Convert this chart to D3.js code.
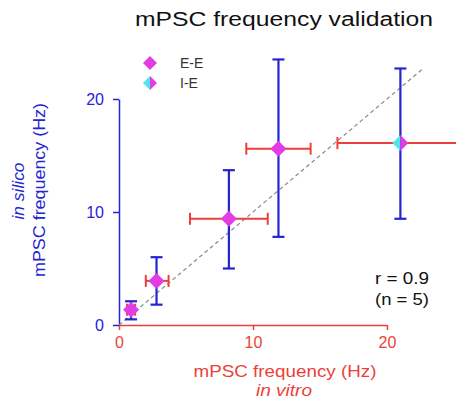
<!DOCTYPE html>
<html>
  <head>
    <meta charset="utf-8">
    <script src="https://cdn.jsdelivr.net/npm/d3@7"></script>
    <style>
      body { margin: 0; background: #fff; font-family: "Liberation Sans", Arial, sans-serif; }
    </style>
  </head>
  <body>
    <div id="my_dataviz"></div>
  <script>
    // in vitro (x) and in silico (y) mPSC frequency, Hz
    let groups = ["E-E", "E-E", "E-E", "E-E", "I-E"];
    let vitroMean = [0.9, 2.8, 8.2, 11.9, 21.0];
    let vitroLo   = [0.6, 2.0, 5.3, 9.5, 16.3];
    let vitroHi   = [1.2, 3.7, 11.1, 14.3, 25.7];
    let silicoMean = [1.35, 3.9, 9.4, 15.6, 16.1];
    let silicoLo   = [0.5, 1.8, 5.0, 7.8, 9.4];
    let silicoHi   = [2.1, 6.0, 13.7, 23.5, 22.7];
    let xTicks = [0, 10, 20];
    let yTicks = [0, 10, 20];
    let identityEnd = 22.6;

    let blue = "#2424d4", red = "#ec3f3a", magenta = "#e23ce6", cyan = "#4ee6e6";

    let width = 456, height = 400;

    let svg = d3.select("#my_dataviz")
                .append("svg")
                  .attr("width", width)
                  .attr("height", height);

    let x = d3.scaleLinear().domain([0, 20]).range([119, 387]);
    let y = d3.scaleLinear().domain([0, 20]).range([325, 99]);

    // axes
    let xAxis = svg.append("g")
       .attr("transform", "translate(0," + y(0) + ")")
       .call(d3.axisBottom(x).tickValues(xTicks).tickSize(5).tickSizeOuter(0).tickPadding(7));
    xAxis.selectAll("path, line").attr("stroke", red).attr("stroke-width", 1.5);
    xAxis.selectAll("text").attr("fill", red).style("font-size", "16px").style("font-family", "Liberation Sans, Arial, sans-serif");

    let yAxis = svg.append("g")
       .attr("transform", "translate(" + x(0) + ",0)")
       .call(d3.axisLeft(y).tickValues(yTicks).tickSize(6).tickSizeOuter(0).tickPadding(9));
    yAxis.selectAll("path, line").attr("stroke", blue).attr("stroke-width", 1.5);
    yAxis.selectAll("text").attr("fill", blue).style("font-size", "16px").style("font-family", "Liberation Sans, Arial, sans-serif");

    // identity line
    svg.append("line")
       .attr("x1", x(0)).attr("y1", y(0))
       .attr("x2", x(identityEnd)).attr("y2", y(identityEnd))
       .attr("stroke", "#8a8a8a")
       .attr("stroke-width", 1.2)
       .attr("stroke-dasharray", "4,3");

    let data = groups.map(function(g, i) {
      return { g: g, xm: vitroMean[i], xl: vitroLo[i], xh: vitroHi[i],
               ym: silicoMean[i], yl: silicoLo[i], yh: silicoHi[i] };
    });

    let bars = svg.append("g");
    // horizontal (in vitro) error bars
    data.forEach(function(d) {
      bars.append("line")
        .attr("x1", x(d.xl)).attr("x2", x(d.xh))
        .attr("y1", y(d.ym)).attr("y2", y(d.ym))
        .attr("stroke", red).attr("stroke-width", 2);
      [d.xl, d.xh].forEach(function(v) {
        bars.append("line")
          .attr("x1", x(v)).attr("x2", x(v))
          .attr("y1", y(d.ym) - 6).attr("y2", y(d.ym) + 6)
          .attr("stroke", red).attr("stroke-width", 2);
      });
    });
    // vertical (in silico) error bars
    data.forEach(function(d) {
      bars.append("line")
        .attr("x1", x(d.xm)).attr("x2", x(d.xm))
        .attr("y1", y(d.yl)).attr("y2", y(d.yh))
        .attr("stroke", blue).attr("stroke-width", 2.2);
      [d.yl, d.yh].forEach(function(v) {
        bars.append("line")
          .attr("x1", x(d.xm) - 6).attr("x2", x(d.xm) + 6)
          .attr("y1", y(v)).attr("y2", y(v))
          .attr("stroke", blue).attr("stroke-width", 2.2);
      });
    });

    // diamond markers, I-E is half cyan / half magenta
    function diamond(g, cx, cy, r, type) {
      if (type === "I-E") {
        g.append("path")
          .attr("d", "M" + cx + "," + (cy - r) + "L" + (cx - r) + "," + cy + "L" + cx + "," + (cy + r) + "Z")
          .attr("fill", cyan);
        g.append("path")
          .attr("d", "M" + cx + "," + (cy - r) + "L" + (cx + r) + "," + cy + "L" + cx + "," + (cy + r) + "Z")
          .attr("fill", magenta);
      } else {
        g.append("path")
          .attr("d", "M" + cx + "," + (cy - r) + "L" + (cx + r) + "," + cy + "L" + cx + "," + (cy + r) + "L" + (cx - r) + "," + cy + "Z")
          .attr("fill", magenta);
      }
    }

    let marks = svg.append("g");
    data.forEach(function(d) {
      diamond(marks, x(d.xm), y(d.ym), 8, d.g);
    });

    // legend
    let legendItems = ["E-E", "I-E"];
    legendItems.forEach(function(l, i) {
      let ly = 63 + i * 20;
      diamond(svg, 150, ly, 7, l);
      svg.append("text")
        .attr("x", 180).attr("y", ly + 5)
        .attr("fill", "#333")
        .style("font-size", "14px")
        .text(l);
    });

    // stretched text helper, the original font runs wider than Arial
    function label(tx, ty, str, size, len, color, italic, rot) {
      let t = svg.append("text")
        .attr("text-anchor", "middle")
        .attr("fill", color)
        .style("font-size", size + "px")
        .text(str);
      if (italic) t.style("font-style", "italic");
      if (len) t.attr("textLength", len).attr("lengthAdjust", "spacingAndGlyphs");
      t.attr("transform", "translate(" + tx + "," + ty + ")" + (rot ? " rotate(-90)" : ""));
      return t;
    }

    label(284, 26, "mPSC frequency validation", 20, 298, "#111", false, false);

    label(285, 377, "mPSC frequency (Hz)", 16.5, 183, red, false, false);
    label(284, 396, "in vitro", 16.5, 56, red, true, false);

    label(45, 190, "mPSC frequency (Hz)", 16.5, 174, blue, false, true);
    label(24, 191, "in silico", 16.5, 57, blue, true, true);

    label(402, 284, "r = 0.9", 16.5, 54, "#111", false, false);
    label(402, 305, "(n = 5)", 16.5, 54, "#111", false, false);
  </script>
  </body>
</html>
